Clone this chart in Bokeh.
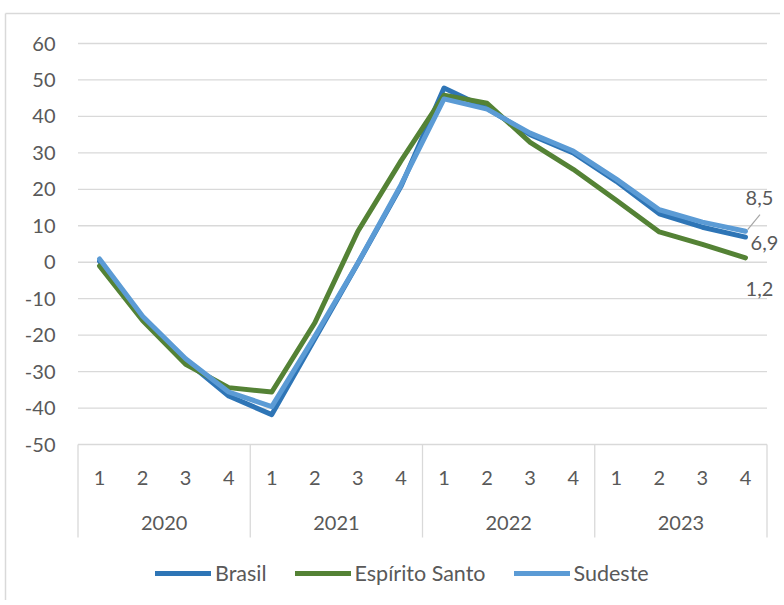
from bokeh.plotting import figure
from bokeh.models import Range1d, Legend, LegendItem
from bokeh.core.properties import value
from bokeh.embed import file_html
from bokeh.resources import INLINE

# ---------------- data ----------------
years = ["2020", "2021", "2022", "2023"]
quarters = ["1", "2", "3", "4"]
brasil = [0.3, -15.3, -27.0, -36.7, -41.8, -21.0, -0.3, 20.8,
          47.8, 42.2, 35.0, 30.0, 22.2, 13.3, 9.6, 6.9]
espirito_santo = [-1.0, -16.0, -28.0, -34.4, -35.6, -16.6, 8.5, 27.8,
                  45.8, 43.6, 32.9, 25.5, 17.0, 8.3, 4.9, 1.2]
sudeste = [0.9, -14.8, -26.5, -35.6, -39.6, -20.3, -0.2, 21.2,
           44.8, 42.0, 35.4, 30.5, 22.8, 14.4, 11.0, 8.5]
y_ticks = list(range(-50, 61, 10))

# ---------------- layout (px) ----------------
W, H = 780, 600
n = len(years) * len(quarters)
PLOT_L, PLOT_R = 77.5, 766.5     # category area, px
PLOT_T, PLOT_B = 43.0, 444.0     # y=60 and y=-50 px
PXC = (PLOT_R - PLOT_L) / n
PXU = (PLOT_B - PLOT_T) / (y_ticks[-1] - y_ticks[0])
x_start = -0.5 - PLOT_L / PXC
x_end = x_start + W / PXC
y_end = y_ticks[-1] + PLOT_T / PXU
y_start = y_end - H / PXU

FONT = value("Lato")
TXT = "#595959"
GRID = "#d9d9d9"
FS = "20px"
FS_LEG = "21.5px"

p = figure(width=W, height=H, output_backend="svg", toolbar_location=None,
           x_range=Range1d(x_start, x_end), y_range=Range1d(y_start, y_end),
           x_axis_location=None, y_axis_location=None,
           min_border=0)
p.outline_line_color = None
p.background_fill_color = "white"
p.border_fill_color = "white"
p.grid.visible = False

xs = list(range(n))
y_min = y_ticks[0]

# outer chart border (left and top edges visible)
bx = x_start + 5 / PXC
by = y_end - 13 / PXU
p.segment(x0=[bx, bx], y0=[by, by], x1=[bx, x_end], y1=[y_start, by],
          line_color=GRID, line_width=1.5)

# horizontal gridlines
p.segment(x0=[-0.5] * len(y_ticks), y0=y_ticks, x1=[n - 0.5] * len(y_ticks), y1=y_ticks,
          line_color=GRID, line_width=1.3)
# y tick labels
p.text(x=[-0.5] * len(y_ticks), y=y_ticks, text=[str(t) for t in y_ticks], x_offset=-22.5,
       text_align="right", text_baseline="middle", text_font=FONT,
       text_font_size=FS, text_color=TXT)

# category separators
bounds = [i * len(quarters) - 0.5 for i in range(len(years) + 1)]
p.segment(x0=bounds, y0=[y_min] * len(bounds), x1=bounds,
          y1=[y_min - 93 / PXU] * len(bounds), line_color=GRID, line_width=1.3)

# quarter labels
q_labels = [q for _ in years for q in quarters]
p.text(x=xs, y=[y_min] * n, text=q_labels, y_offset=33, text_align="center",
       text_baseline="middle", text_font=FONT, text_font_size=FS, text_color=TXT)
# year labels
year_x = [i * len(quarters) + (len(quarters) - 1) / 2 for i in range(len(years))]
p.text(x=year_x, y=[y_min] * len(years), text=years, y_offset=78, text_align="center",
       text_baseline="middle", text_font=FONT, text_font_size=FS, text_color=TXT)

# series
series = [("Brasil", brasil, "#2E75B6"),
          ("Espírito Santo", espirito_santo, "#548235"),
          ("Sudeste", sudeste, "#5B9BD5")]
items = []
for name, ys, col in series:
    r = p.line(xs, ys, line_width=5, line_color=col, line_join="round", line_cap="round")
    items.append(LegendItem(label=name, renderers=[r]))

# end labels
last = [sudeste[-1], brasil[-1], espirito_santo[-1]]
lab = [f"{v:.1f}".replace(".", ",") for v in last]
p.text(x=[n - 1] * 3, y=last, text=lab, x_offset=[14, 19, 14], y_offset=[-33.5, 6, 31],
       text_align="center", text_baseline="middle", text_font=FONT,
       text_font_size=FS, text_color=TXT)
# leader line for Sudeste label
p.segment(x0=[n - 1 + 2.2 / PXC], y0=[sudeste[-1] + 1.5 / PXU],
          x1=[n - 1 + 14.5 / PXC], y1=[sudeste[-1] + 16.5 / PXU],
          line_color="#a6a6a6", line_width=1.2)

legend = Legend(items=items, orientation="horizontal", location=(155, H - 586),
                glyph_width=56, glyph_height=22, label_standoff=4, spacing=28,
                padding=0, margin=0, border_line_color=None, background_fill_alpha=0,
                label_text_font="Lato", label_text_font_size=FS_LEG, label_text_color=TXT)
p.add_layout(legend, "center")

open("out.html", "w").write(file_html(p, INLINE))
